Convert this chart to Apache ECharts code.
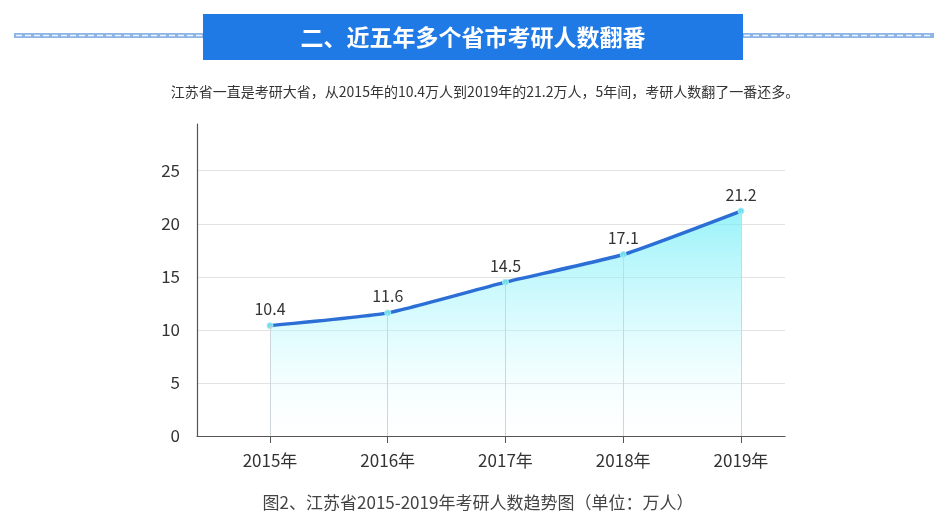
<!DOCTYPE html>
<html>
<head>
<meta charset="utf-8">
<script src="https://cdn.jsdelivr.net/npm/echarts@6/dist/echarts.min.js"></script>
<style>
html,body{margin:0;padding:0;background:#fff;}
#c{width:948px;height:524px;}
</style>
</head>
<body>
<div id="c"></div>
<script>
const categories = ['2015年', '2016年', '2017年', '2018年', '2019年'];
const values = [10.4, 11.6, 14.5, 17.1, 21.2];
const yTicks = [0, 5, 10, 15, 20, 25];
const bannerTitle = '二、近五年多个省市考研人数翻番';
const introText = '江苏省一直是考研大省，从2015年的10.4万人到2019年的21.2万人，5年间，考研人数翻了一番还多。';
const captionText = '图2、江苏省2015-2019年考研人数趋势图（单位：万人）';

const FONT = '"Noto Sans CJK SC", "Noto Sans", sans-serif';
const idx = categories.map((_, i) => i);
const chart = echarts.init(document.getElementById('c'), null, {renderer: 'canvas'});

function dashedBand(x1, x2) {
  return [
    {type: 'rect', shape: {x: x1, y: 33, width: x2 - x1, height: 5}, style: {fill: '#8db5e6'}, silent: true},
    {type: 'line', shape: {x1: x1 + 2, y1: 35.5, x2: x2 - 2, y2: 35.5}, style: {stroke: '#eef4fc', lineWidth: 1.3, lineDash: [6, 3]}, silent: true}
  ];
}

chart.setOption({
  animation: false,
  backgroundColor: '#ffffff',
  graphic: [
    ...dashedBand(14, 204),
    ...dashedBand(742, 934),
    {type: 'rect', shape: {x: 203, y: 14, width: 540, height: 46}, style: {fill: '#1f7ae6'}, silent: true},
    {type: 'text', x: 473, y: 37, style: {text: bannerTitle, fill: '#ffffff', font: 'bold 23px ' + FONT, textAlign: 'center', textVerticalAlign: 'middle'}},
    {type: 'text', x: 485, y: 92, style: {text: introText, fill: '#333333', font: '14px ' + FONT, textAlign: 'center', textVerticalAlign: 'middle'}},
    {type: 'text', x: 478, y: 503, style: {text: captionText, fill: '#444444', font: '17px ' + FONT, textAlign: 'center', textVerticalAlign: 'middle'}}
  ],
  grid: {left: 197, right: 163, top: 124, bottom: 88, containLabel: false},
  xAxis: {
    type: 'value',
    min: -0.62,
    max: 4.374,
    axisLine: {show: true, onZero: false, lineStyle: {color: '#555555', width: 1.2}},
    axisTick: {show: true, customValues: idx, length: 7, lineStyle: {color: '#555555'}},
    axisLabel: {customValues: idx, formatter: v => categories[Math.round(v)], color: '#333333', fontSize: 17, fontFamily: FONT, margin: 16},
    splitLine: {show: false}
  },
  yAxis: {
    type: 'value',
    min: 0,
    max: 29.4,
    interval: 5,
    axisLine: {show: true, onZero: false, lineStyle: {color: '#555555', width: 1.2}},
    axisTick: {show: false},
    axisLabel: {showMaxLabel: false, color: '#333333', fontSize: 17, fontFamily: FONT, margin: 17},
    splitLine: {show: true, lineStyle: {color: ['#e2e2e2', '#e2e2e2', '#e2e2e2', '#e2e2e2', '#e2e2e2', '#e2e2e2', 'rgba(0,0,0,0)'], width: 1}}
  },
  series: [{
    type: 'line',
    data: values.map((v, i) => [i, v]),
    smooth: 0.15,
    symbol: 'circle',
    symbolSize: 6,
    itemStyle: {color: '#6fdcec', borderColor: '#a8eef5', borderWidth: 1},
    lineStyle: {color: '#2b6ed6', width: 3.5},
    label: {show: true, position: 'top', distance: 5, color: '#333333', fontSize: 16, fontFamily: FONT, formatter: p => p.value[1].toFixed(1)},
    areaStyle: {
      color: new echarts.graphic.LinearGradient(0, 0, 0, 1, [
        {offset: 0, color: 'rgba(100,236,246,0.95)'},
        {offset: 0.5, color: 'rgba(170,246,252,0.6)'},
        {offset: 1, color: 'rgba(255,255,255,0.2)'}
      ])
    },
    markLine: {
      silent: true,
      symbol: 'none',
      label: {show: false},
      lineStyle: {color: '#cdd6da', type: 'solid', width: 1},
      data: values.map((v, i) => [{coord: [i, 0]}, {coord: [i, v]}])
    },
    z: 3
  }]
});
</script>
</body>
</html>
